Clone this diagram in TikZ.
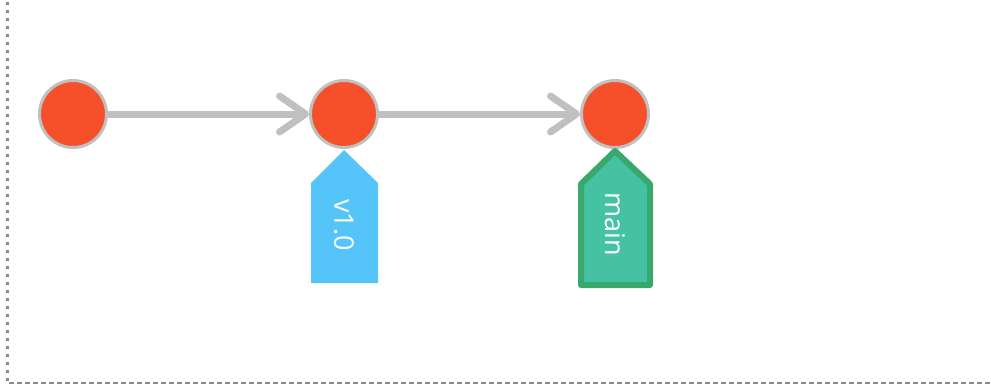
\documentclass[tikz,border=0pt]{standalone}
\usepackage{fontspec}
\newfontfamily\tagfont{Open Sans}
\usetikzlibrary{arrows.meta}

\definecolor{commitred}{HTML}{F5502A}
\definecolor{edgegray}{HTML}{C0C0C0}
\definecolor{tagblue}{HTML}{54C4F9}
\definecolor{headfill}{HTML}{45C2A3}
\definecolor{headline}{HTML}{38A86C}
\definecolor{framegray}{HTML}{8A8A8A}

\begin{document}
\begin{tikzpicture}
  [x=1pt,y=-1pt,
   commit/.style={circle,fill=commitred,draw=edgegray,line width=3pt,minimum size=67pt,inner sep=0pt},
   link/.style={draw=edgegray,line width=7pt,-{Straight Barb[length=26pt,width=36pt,round]}},
   tagtext/.style={text=white,rotate=-90,font=\tagfont\fontsize{27}{27}\selectfont,inner sep=0pt}]
  \useasboundingbox (0,0) rectangle (991,384);

  % frame
  \draw[framegray,line width=3pt,dash pattern=on 3pt off 5pt] (7,2) -- (7,381);
  \draw[framegray,line width=1.5pt,dash pattern=on 4.5pt off 3.5pt] (9,383) -- (991,383);

  \node[commit] (c1) at (73,114)  {};
  \node[commit] (c2) at (344,114) {};
  \node[commit] (c3) at (615,114) {};

  \foreach \from/\to in {c1/c2,c2/c3}
    \draw[link] (\from) -- (\to);

  % tags
  \fill[tagblue] (311,283) -- (311,183) -- (344,150) -- (378,183) -- (378,283) -- cycle;
  \node[tagtext] (v10) at (344,225) {v1.0};

  \filldraw[fill=headfill,draw=headline,line width=6pt,line join=round]
    (581,285) -- (581,184) -- (615,151) -- (650,184) -- (650,285) -- cycle;
  \node[tagtext] (main) at (615,224) {main};

\end{tikzpicture}
\end{document}
